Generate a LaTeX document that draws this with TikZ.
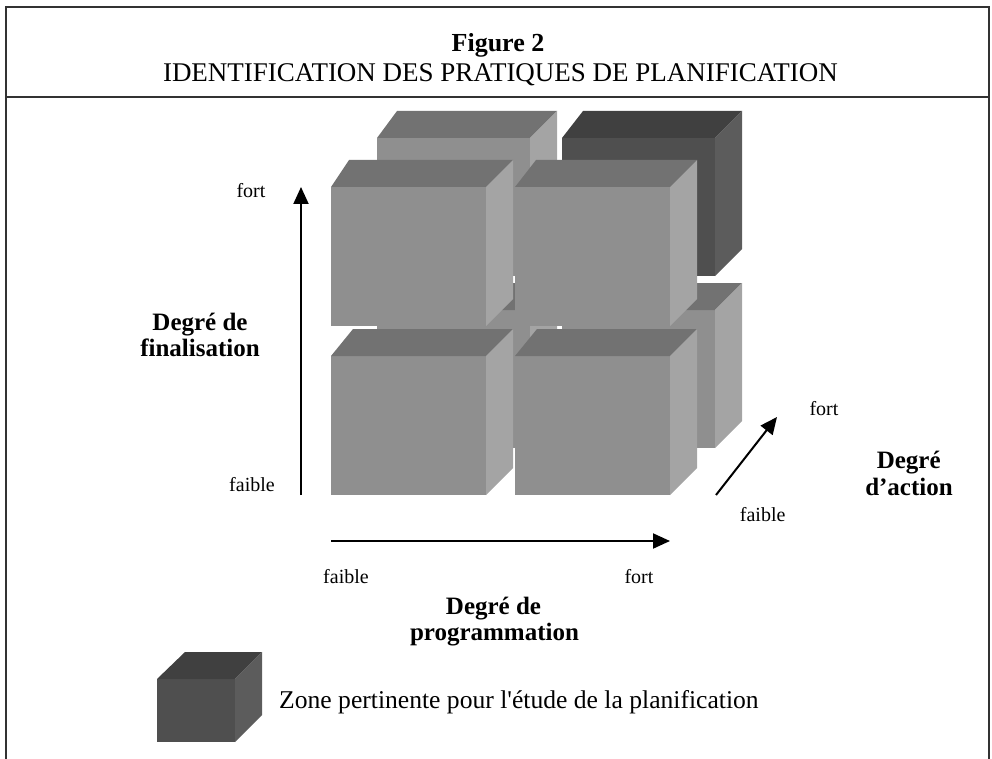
\documentclass[tikz,border=0pt]{standalone}
\usepackage{fontspec}
\setmainfont{Liberation Serif}
\usetikzlibrary{arrows.meta}
\definecolor{cfront}{RGB}{143,143,143}
\definecolor{ctop}{RGB}{114,114,114}
\definecolor{cside}{RGB}{164,164,164}
\definecolor{dfront}{RGB}{79,79,79}
\definecolor{dtop}{RGB}{64,64,64}
\definecolor{dside}{RGB}{92,92,92}
\definecolor{framecol}{RGB}{50,50,50}
% x, y (top-left of front face), width, height, left slant, front, top, side colours
\newcommand{\mycube}[8]{%
  \fill[#6] (#1,#2) rectangle ++(#3,#4);
  \fill[#7] (#1,#2) -- ++(#5,-27) -- ++(#3+27-#5,0) -- ++(-27,27) -- cycle;
  \fill[#8] (#1+#3,#2) -- ++(27,-27) -- ++(0,#4) -- ++(-27,27) -- cycle;
}
\begin{document}
\begin{tikzpicture}[x=1pt,y=-1pt,
  lbl/.style={font=\fontsize{20}{24}\selectfont, inner sep=0pt, anchor=base},
  axislbl/.style={font=\fontsize{25}{28}\selectfont\bfseries, inner sep=0pt, anchor=base},
  arr/.style={line width=2pt, -{Triangle[length=17pt,width=15pt]}},
  framestyle/.style={line width=2pt, draw=framecol}]
\useasboundingbox (0,0) rectangle (992,759);
% frame
\draw[framestyle] (6,759) -- (6,7) -- (989,7) -- (989,759);
\draw[framestyle] (6,97) -- (989,97);
% header
\node[font=\fontsize{26}{30}\selectfont\bfseries, inner sep=0pt, anchor=base] (fig) at (498,51.5) {Figure 2};
\node[font=\fontsize{27}{30}\selectfont, inner sep=0pt, anchor=base] (title) at (500.5,82) {IDENTIFICATION DES PRATIQUES DE PLANIFICATION};
% back layer
\mycube{377}{310}{153}{138}{20}{cfront}{ctop}{cside}
\mycube{562}{310}{153}{138}{20}{cfront}{ctop}{cside}
\mycube{377}{138}{153}{138}{20}{cfront}{ctop}{cside}
\mycube{562}{138}{153}{138}{21}{dfront}{dtop}{dside}
% front layer
\mycube{331}{356}{155}{139}{22}{cfront}{ctop}{cside}
\mycube{515}{356}{155}{139}{22}{cfront}{ctop}{cside}
\mycube{331}{187}{155}{139}{18}{cfront}{ctop}{cside}
\mycube{515}{187}{155}{139}{21}{cfront}{ctop}{cside}
% vertical axis
\coordinate (v0) at (301,495);
\coordinate (v1) at (301,187);
\draw[arr] (v0) -- (v1);
\node[lbl] (vfort) at (251,198) {fort};
\node[lbl] (vfaible) at (252,491.5) {faible};
\node[axislbl] (fin1) at (200,330) {Degré de};
\node[axislbl] (fin2) at (200,356.5) {finalisation};
% horizontal axis
\coordinate (h0) at (331,541);
\coordinate (h1) at (670,541);
\draw[arr] (h0) -- (h1);
\node[lbl] (hfaible) at (346,583) {faible};
\node[lbl] (hfort) at (639,583) {fort};
\node[axislbl] (prog1) at (493.5,614.5) {Degré de};
\node[axislbl] (prog2) at (494.5,640) {programmation};
% diagonal axis
\coordinate (d0) at (716,495);
\coordinate (d1) at (777,417);
\draw[arr] (d0) -- (d1);
\node[lbl] (dfort) at (824,415) {fort};
\node[lbl] (dfaible) at (762.7,521.7) {faible};
\node[axislbl] (act1) at (908.7,468) {Degré};
\node[axislbl] (act2) at (909,495) {d’action};
% legend
\mycube{157}{679}{78}{63}{28}{dfront}{dtop}{dside}
\node[font=\fontsize{25.6}{30}\selectfont, inner sep=0pt, anchor=base west] (legend) at (279,708.3) {Zone pertinente pour l\textquotesingle étude de la planification};
\end{tikzpicture}
\end{document}
